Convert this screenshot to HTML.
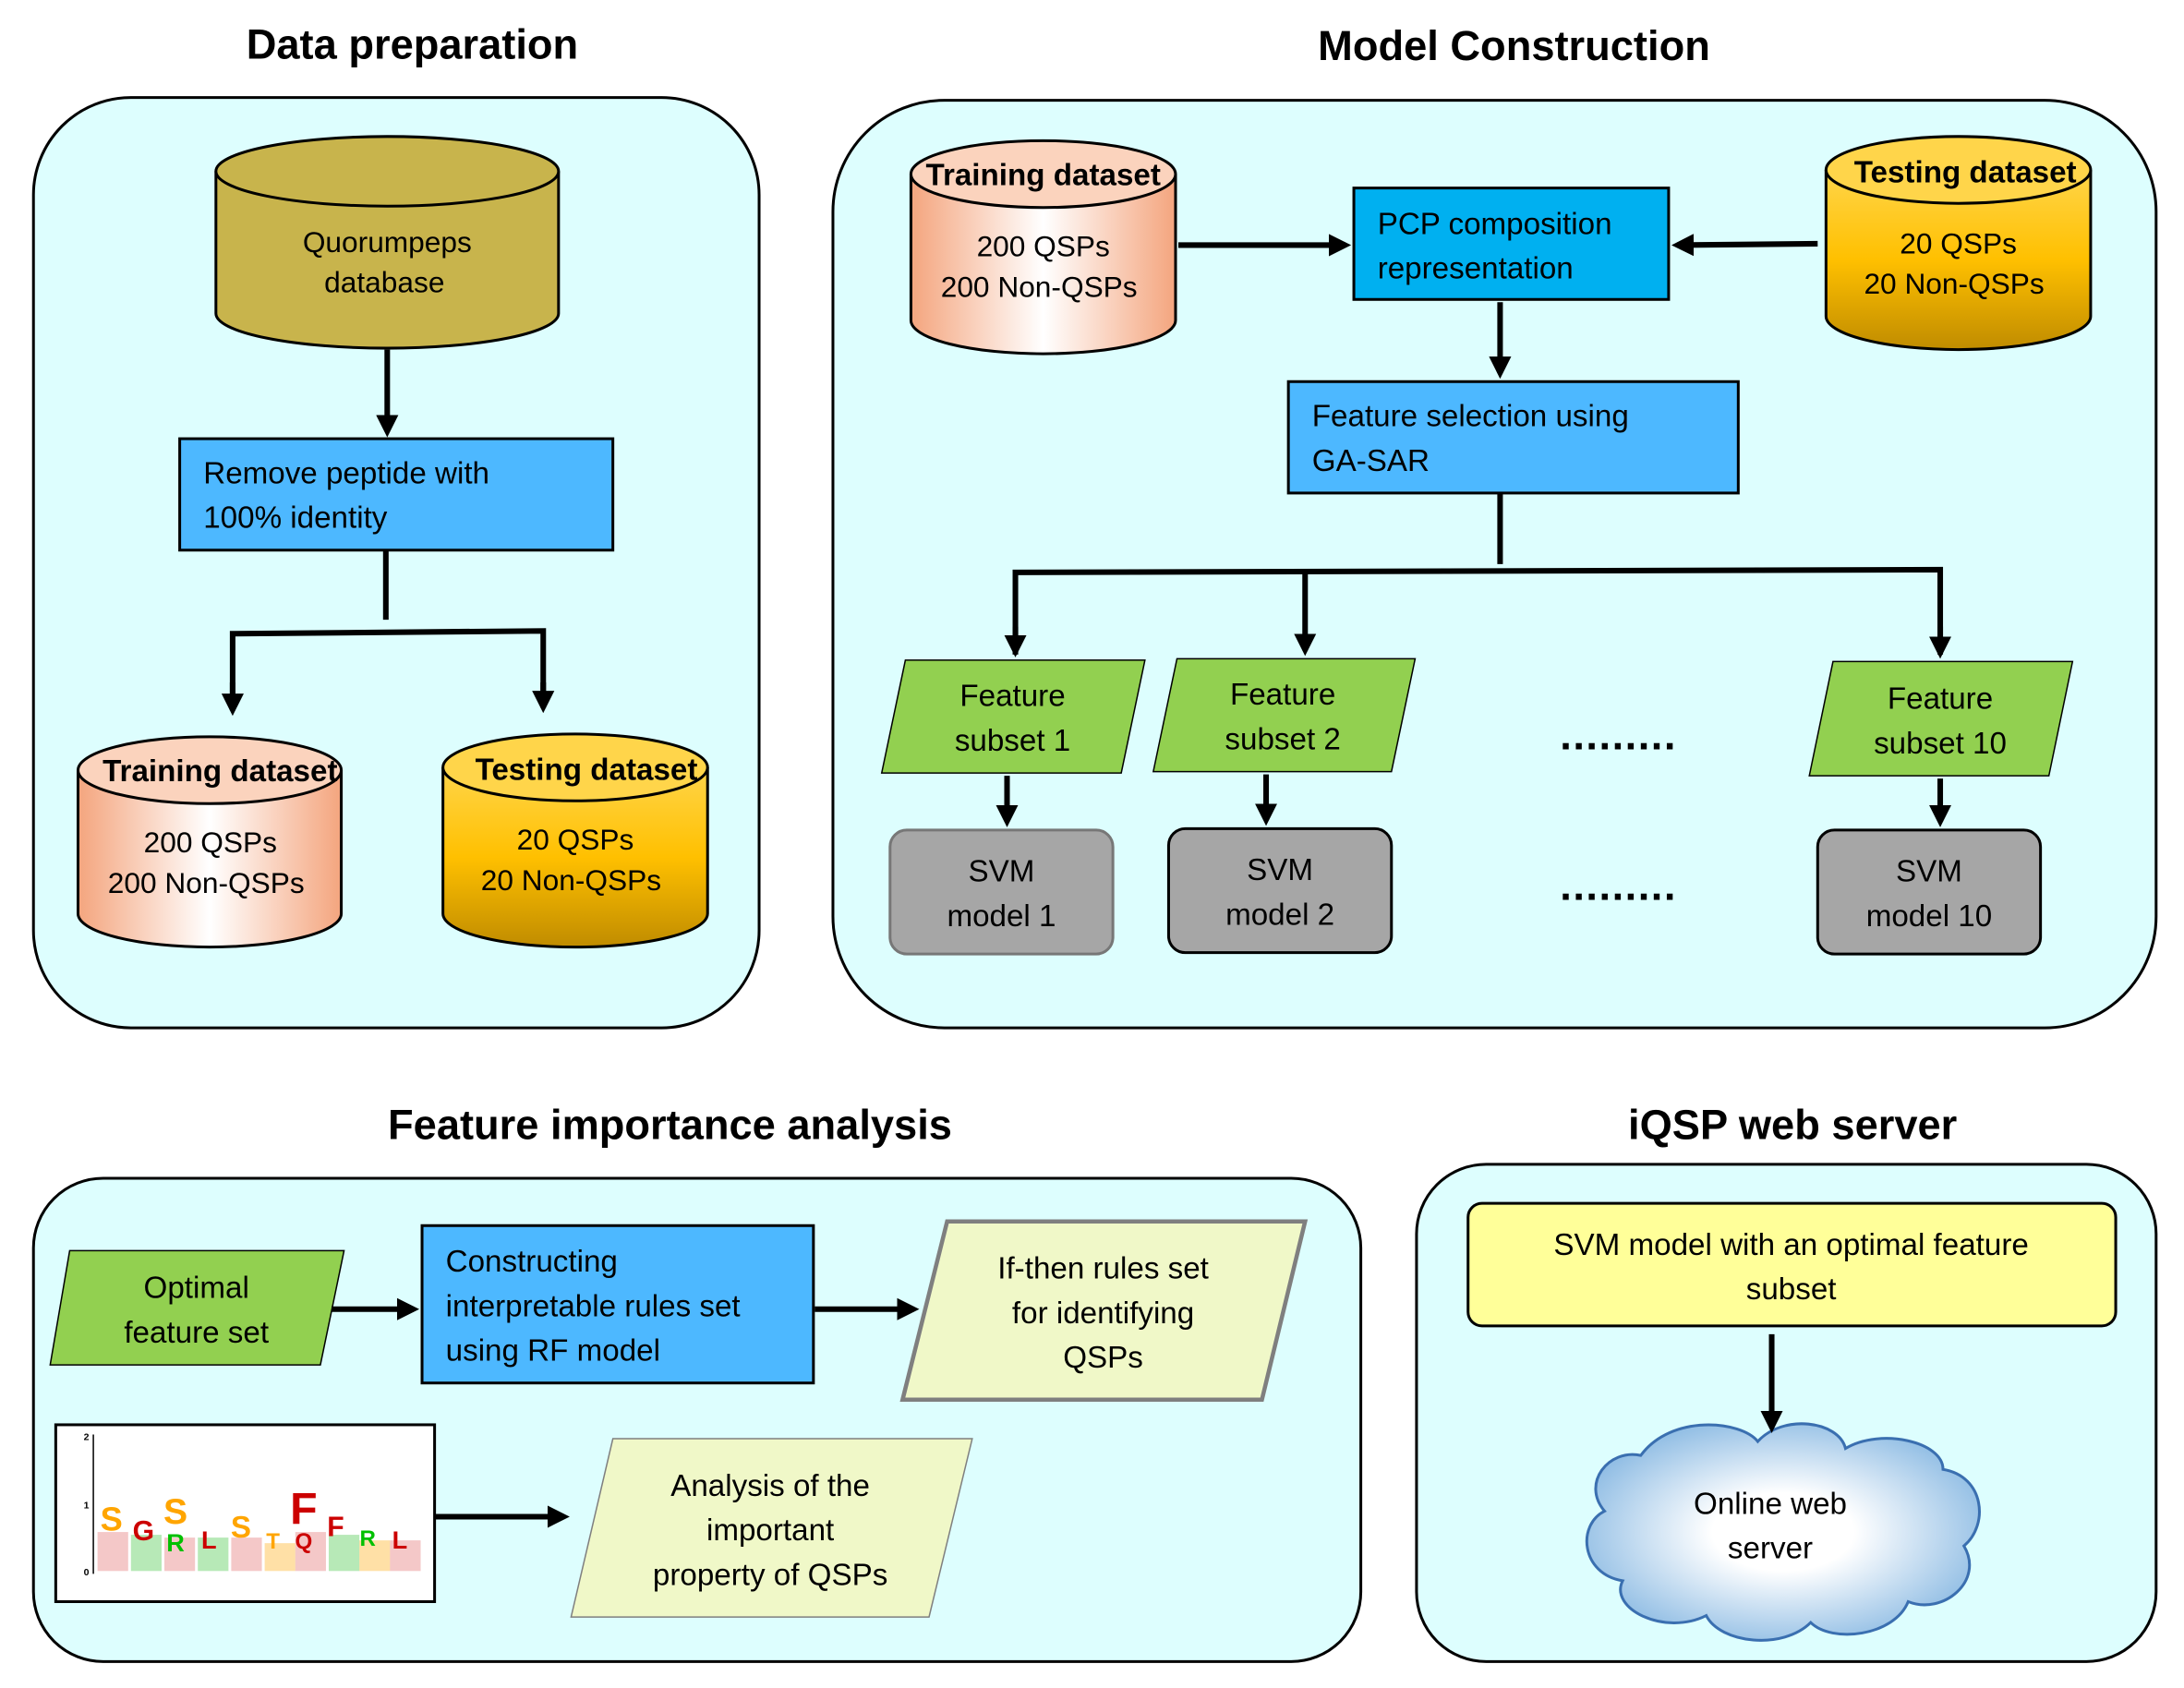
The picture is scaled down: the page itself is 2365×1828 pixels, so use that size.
<!DOCTYPE html>
<html><head><meta charset="utf-8"><style>html,body{margin:0;padding:0;background:#fff}svg{display:block}</style></head><body>
<svg width="2365" height="1828" viewBox="0 0 1568 1212" xmlns="http://www.w3.org/2000/svg" font-family="Liberation Sans, sans-serif">
<defs>
<linearGradient id="tr" x1="0" x2="1" y1="0" y2="0"><stop offset="0" stop-color="#f4a57e"/><stop offset="0.5" stop-color="#fff"/><stop offset="1" stop-color="#f4a57e"/></linearGradient>
<linearGradient id="tt" x1="0" x2="0" y1="0" y2="1"><stop offset="0" stop-color="#ffd54a"/><stop offset="0.5" stop-color="#ffc000"/><stop offset="1" stop-color="#c08c00"/></linearGradient>
<radialGradient id="cl" cx="0.5" cy="0.5" r="0.6"><stop offset="0.3" stop-color="#fff"/><stop offset="1" stop-color="#7fb3e0"/></radialGradient>
<marker id="a" markerWidth="4" markerHeight="4" refX="3" refY="2" orient="auto" markerUnits="strokeWidth"><path d="M0,0 L4,2 L0,4 z" fill="#000"/></marker>
</defs>
<g font-weight="bold" font-size="30" text-anchor="middle" fill="#000">
<text x="296" y="42">Data preparation</text>
<text x="1087" y="43">Model Construction</text>
<text x="481" y="818">Feature importance analysis</text>
<text x="1287" y="818">iQSP web server</text>
</g>
<g fill="#ddfefe" stroke="#000" stroke-width="2">
<rect x="24" y="70" width="521" height="668" rx="70"/>
<rect x="598" y="72" width="950" height="666" rx="80"/>
<rect x="24" y="846" width="953" height="347" rx="50"/>
<rect x="1017" y="836" width="531" height="357" rx="50"/>
</g>
<g stroke="#000" stroke-width="2">
<path d="M155,123 V225 A123,25 0 0 0 401,225 V123" fill="#c8b44c"/><ellipse cx="278" cy="123" rx="123" ry="25" fill="#c8b44c"/>
<path d="M56,553 V656 A94.5,24 0 0 0 245,656 V553" fill="url(#tr)"/><ellipse cx="150.5" cy="553" rx="94.5" ry="24" fill="#fbd3bd"/>
<path d="M318,551 V656 A95,24 0 0 0 508,656 V551" fill="url(#tt)"/><ellipse cx="413" cy="551" rx="95" ry="24" fill="#ffd54a"/>
<path d="M654,125 V230 A95,24 0 0 0 844,230 V125" fill="url(#tr)"/><ellipse cx="749" cy="125" rx="95" ry="24" fill="#fbd3bd"/>
<path d="M1311,122 V227 A95,24 0 0 0 1501,227 V122" fill="url(#tt)"/><ellipse cx="1406" cy="122" rx="95" ry="24" fill="#ffd54a"/>
</g>
<g font-size="21" text-anchor="middle" fill="#000">
<text x="278" y="181">Quorumpeps</text><text x="276" y="210">database</text>
<text x="151" y="612">200 QSPs</text><text x="148" y="641">200 Non-QSPs</text>
<text x="413" y="610">20 QSPs</text><text x="410" y="639">20 Non-QSPs</text>
<text x="749" y="184">200 QSPs</text><text x="746" y="213">200 Non-QSPs</text>
<text x="1406" y="182">20 QSPs</text><text x="1403" y="211">20 Non-QSPs</text>
</g>
<g font-size="22" font-weight="bold" text-anchor="middle">
<text x="158" y="561">Training dataset</text><text x="421" y="560">Testing dataset</text>
<text x="749" y="133">Training dataset</text><text x="1411" y="131">Testing dataset</text>
</g>
<g stroke="#000" stroke-width="2">
<rect x="129" y="315" width="311" height="80" fill="#4db8ff"/>
<rect x="972" y="135" width="226" height="80" fill="#00b0f0"/>
<rect x="925" y="274" width="323" height="80" fill="#4db8ff"/>
<rect x="303" y="880" width="281" height="113" fill="#4db8ff"/>
<rect x="1054" y="864" width="465" height="88" rx="10" fill="#ffff99"/>
<polygon points="650,474 822,474 805,555 633,555" fill="#92d050" stroke-width="1"/>
<polygon points="845,473 1016,473 999,554 828,554" fill="#92d050" stroke-width="1"/>
<polygon points="1316,475 1488,475 1471,557 1299,557" fill="#92d050" stroke-width="1"/>
<polygon points="50,898 247,898 230,980 36,980" fill="#92d050" stroke-width="1"/>
<polygon points="680,877 937,877 906,1005 648,1005" fill="#f0f8c8" stroke="#7f7f7f" stroke-width="3"/>
<polygon points="440,1033 698,1033 667,1161 410,1161" fill="#f0f8c8" stroke="#7f7f7f" stroke-width="1"/>
<rect x="639" y="596" width="160" height="89" rx="12" fill="#a6a6a6" stroke="#777"/>
<rect x="839" y="595" width="160" height="89" rx="12" fill="#a6a6a6"/>
<rect x="1305" y="596" width="160" height="89" rx="12" fill="#a6a6a6"/>
</g>
<path d="M1178,1045 C1200,1015 1250,1020 1262,1035 C1280,1015 1320,1020 1325,1040 C1350,1025 1395,1035 1395,1055 C1425,1060 1428,1095 1410,1110 C1425,1135 1395,1160 1370,1150 C1360,1175 1315,1180 1300,1165 C1280,1185 1235,1180 1225,1160 C1195,1175 1155,1155 1165,1135 C1135,1130 1132,1095 1152,1085 C1135,1065 1155,1040 1178,1045 Z" fill="url(#cl)" stroke="#3a6fb0" stroke-width="2"/>
<g font-size="22" fill="#000">
<text x="146" y="347">Remove peptide with</text><text x="146" y="379">100% identity</text>
<text x="989" y="168">PCP composition</text><text x="989" y="200">representation</text>
<text x="942" y="306">Feature selection using</text><text x="942" y="338">GA-SAR</text>
<text x="320" y="913">Constructing</text><text x="320" y="945">interpretable rules set</text><text x="320" y="977">using RF model</text>
</g>
<g font-size="22" fill="#000" text-anchor="middle">
<text x="727" y="507">Feature</text><text x="727" y="539">subset 1</text>
<text x="921" y="506">Feature</text><text x="921" y="538">subset 2</text>
<text x="1393" y="509">Feature</text><text x="1393" y="541">subset 10</text>
<text x="141" y="932">Optimal</text><text x="141" y="964">feature set</text>
<text x="792" y="918">If-then rules set</text><text x="792" y="950">for identifying</text><text x="792" y="982">QSPs</text>
<text x="553" y="1074">Analysis of the</text><text x="553" y="1106">important</text><text x="553" y="1138">property of QSPs</text>
<text x="719" y="633">SVM</text><text x="719" y="665">model 1</text>
<text x="919" y="632">SVM</text><text x="919" y="664">model 2</text>
<text x="1385" y="633">SVM</text><text x="1385" y="665">model 10</text>
<text x="1286" y="901">SVM model with an optimal feature</text><text x="1286" y="933">subset</text>
<text x="1271" y="1087">Online web</text><text x="1271" y="1119">server</text>
</g>
<g font-size="30" font-weight="bold" text-anchor="middle" letter-spacing="1"><text x="1162" y="538">.........</text><text x="1162" y="646">.........</text></g>
<rect x="40" y="1023" width="272" height="127" fill="#fff" stroke="#000" stroke-width="2"/>
<g font-family="Liberation Sans" font-weight="bold" text-anchor="middle">
<line x1="67" y1="1030" x2="67" y2="1130" stroke="#000" stroke-width="1"/>
<text x="62" y="1034" font-size="7">2</text><text x="62" y="1083" font-size="7">1</text><text x="62" y="1131" font-size="7">0</text>
<rect x="70" y="1100" width="22" height="28" fill="#e06060" opacity="0.35"/>
<rect x="94" y="1102" width="22" height="26" fill="#30c030" opacity="0.35"/>
<rect x="118" y="1104" width="22" height="24" fill="#e06060" opacity="0.35"/>
<rect x="142" y="1104" width="22" height="24" fill="#30c030" opacity="0.35"/>
<rect x="166" y="1104" width="22" height="24" fill="#e06060" opacity="0.35"/>
<rect x="190" y="1108" width="22" height="20" fill="#ffa500" opacity="0.35"/>
<rect x="212" y="1100" width="22" height="28" fill="#e06060" opacity="0.35"/>
<rect x="236" y="1102" width="22" height="26" fill="#30c030" opacity="0.35"/>
<rect x="258" y="1106" width="22" height="22" fill="#ffa500" opacity="0.35"/>
<rect x="280" y="1106" width="22" height="22" fill="#e06060" opacity="0.35"/>
<text x="80" y="1099" font-size="24" fill="#ffa500" transform="scale(1,1)">S</text>
<text x="103" y="1106" font-size="20" fill="#cc0000">G</text>
<text x="126" y="1094" font-size="26" fill="#ffa500">S</text><text x="126" y="1114" font-size="18" fill="#00c000">R</text>
<text x="150" y="1112" font-size="18" fill="#cc0000">L</text>
<text x="173" y="1104" font-size="22" fill="#ffa500">S</text>
<text x="196" y="1112" font-size="16" fill="#ffa500">T</text>
<text x="218" y="1094" font-size="32" fill="#cc0000">F</text><text x="218" y="1112" font-size="16" fill="#cc0000">Q</text>
<text x="241" y="1103" font-size="20" fill="#cc0000">F</text>
<text x="264" y="1110" font-size="16" fill="#00c000">R</text>
<text x="287" y="1112" font-size="18" fill="#cc0000">L</text>
</g>
<g stroke="#000" stroke-width="4" fill="none">
<line x1="278" y1="251" x2="278" y2="310" marker-end="url(#a)"/>
<polyline points="277,395 277,445"/>
<polyline points="167,510 167,455 390,453 390,508"/>
<line x1="167" y1="490" x2="167" y2="510" marker-end="url(#a)"/>
<line x1="390" y1="490" x2="390" y2="508" marker-end="url(#a)"/>
<line x1="846" y1="176" x2="966" y2="176" marker-end="url(#a)"/>
<line x1="1305" y1="175" x2="1204" y2="176" marker-end="url(#a)"/>
<line x1="1077" y1="217" x2="1077" y2="268" marker-end="url(#a)"/>
<polyline points="1077,354 1077,405"/>
<polyline points="729,470 729,411 1393,409 1393,470"/>
<line x1="729" y1="450" x2="729" y2="468" marker-end="url(#a)"/>
<line x1="937" y1="410" x2="937" y2="467" marker-end="url(#a)"/>
<line x1="1393" y1="450" x2="1393" y2="469" marker-end="url(#a)"/>
<line x1="723" y1="557" x2="723" y2="590" marker-end="url(#a)"/>
<line x1="909" y1="556" x2="909" y2="589" marker-end="url(#a)"/>
<line x1="1393" y1="559" x2="1393" y2="590" marker-end="url(#a)"/>
<line x1="238" y1="940" x2="297" y2="940" marker-end="url(#a)"/>
<line x1="585" y1="940" x2="656" y2="940" marker-end="url(#a)"/>
<line x1="312" y1="1089" x2="405" y2="1089" marker-end="url(#a)"/>
<line x1="1272" y1="958" x2="1272" y2="1025" marker-end="url(#a)"/>
</g>
</svg>
</body></html>
